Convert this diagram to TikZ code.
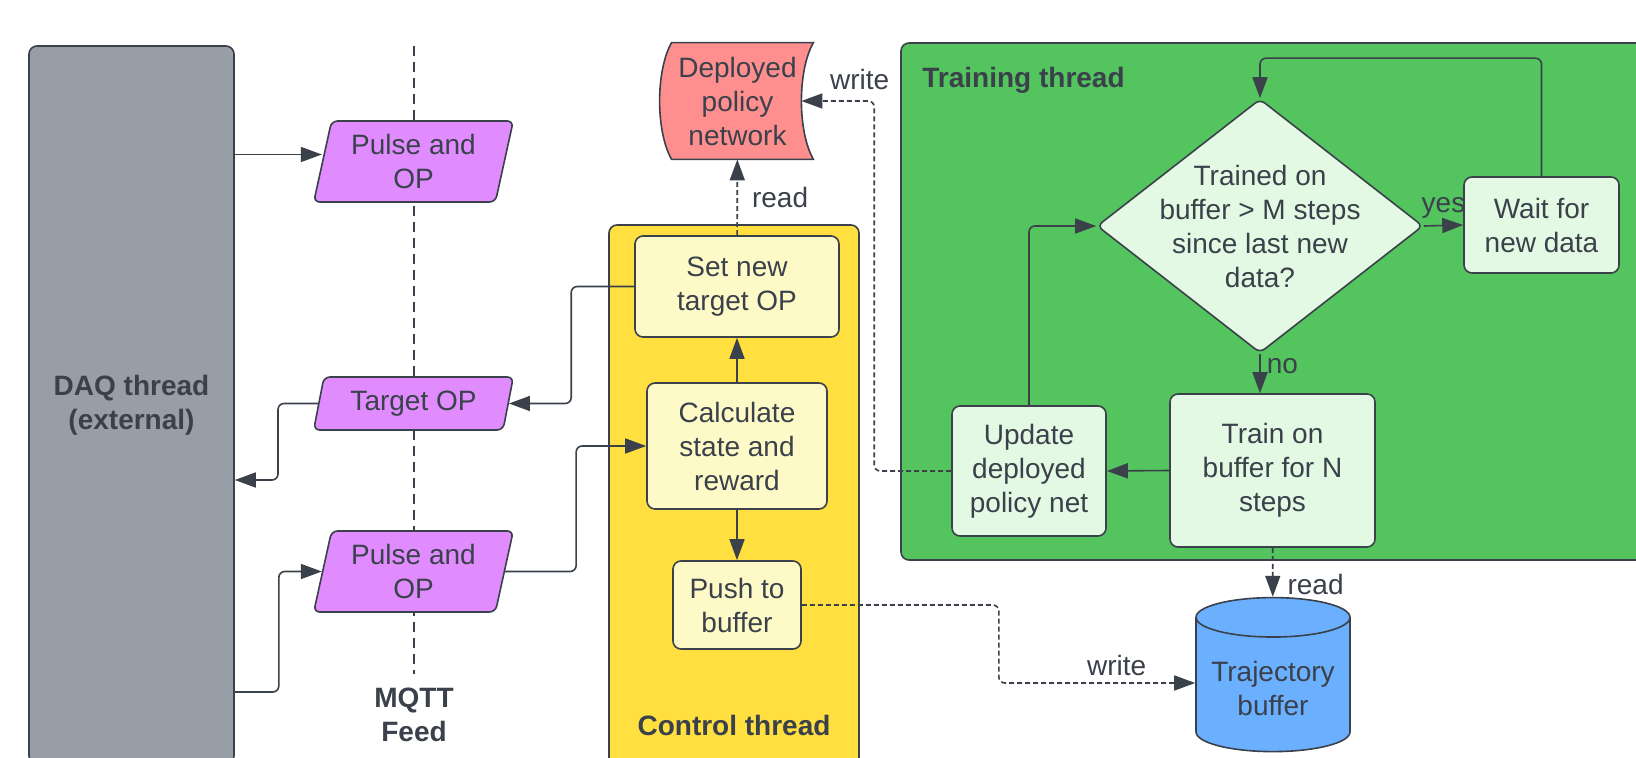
\documentclass[tikz,border=0pt]{standalone}
\usepackage{fontspec}
\setmainfont{Liberation Sans}
\usetikzlibrary{arrows.meta,positioning,shapes.geometric,backgrounds}
\definecolor{inkdark}{RGB}{58,65,74}
\definecolor{daqgray}{RGB}{151,158,168}
\definecolor{msgpurple}{RGB}{224,140,255}
\definecolor{salmonred}{RGB}{255,143,143}
\definecolor{ctrlyellow}{RGB}{255,224,64}
\definecolor{paleyellow}{RGB}{254,250,200}
\definecolor{trngreen}{RGB}{84,196,94}
\definecolor{palegreen}{RGB}{227,249,227}
\definecolor{bufblue}{RGB}{107,175,255}
\tikzset{
  base/.style={font=\fontsize{14}{17}\selectfont, align=center, inner sep=2pt, text=inkdark},
  lane/.style={base, rectangle, rounded corners=4pt, draw=inkdark, line width=0.8pt, inner sep=0pt},
  lanetitle/.style={base, font=\fontsize{14}{17}\selectfont\bfseries},
  box/.style={base, rectangle, rounded corners=4pt, draw=inkdark, line width=0.8pt},
  ctrlbox/.style={box, fill=paleyellow},
  trnbox/.style={box, fill=palegreen},
  msg/.style={base, trapezium, trapezium left angle=77, trapezium right angle=103, trapezium stretches=true, draw=inkdark, fill=msgpurple, line width=0.8pt, rounded corners=3pt, minimum width=100.5pt},
  decision/.style={diamond, draw=inkdark, fill=palegreen, line width=0.8pt, inner sep=0pt, rounded corners=3pt},
  store/.style={base, cylinder, shape border rotate=90, shape aspect=0.3, draw=inkdark, fill=bufblue, line width=0.8pt, minimum width=77pt, minimum height=77pt},
  dbnode/.style={base, rectangle, draw=none, inner sep=0pt},
  dbfill/.style={draw=inkdark, fill=salmonred, line width=0.8pt},
  arr/.style={-{Triangle[length=10.5pt,width=7.5pt]}, line width=0.8pt, draw=inkdark, rounded corners=3pt},
  arrd/.style={arr, dash pattern=on 2.5pt off 1.5pt},
  feed/.style={draw=inkdark, line width=0.7pt, dash pattern=on 5pt off 3pt},
  lbl/.style={base, inner sep=3pt},
}
\begin{document}
\begin{tikzpicture}[x=0.5pt,y=-0.5pt]
  \useasboundingbox (0,0) rectangle (1636,758);
  \clip (0,0) rectangle (1636,758);
  % thread lanes
  \node[lane, fill=daqgray, font=\fontsize{14}{17}\selectfont\bfseries, minimum width=102.5pt, minimum height=359pt] (daq) at (131.5,405) {DAQ thread\\(external)};
  \node[lane, fill=ctrlyellow, minimum width=125pt, minimum height=287.5pt] (ctrl) at (734,512.5) {};
  \node[lane, fill=trngreen, minimum width=399.5pt, minimum height=258.5pt] (trn) at (1300.5,301.5) {};
  \node[lanetitle] (ctrltitle) at (734,725) {Control thread};
  \node[lanetitle, anchor=west] (trntitle) at (918,80) {Training thread};
  \coordinate (daqout) at ([yshift=-37.5pt]daq.east);
  \coordinate (daqin) at ([yshift=-143.5pt]daq.east);
  % MQTT feed
  \node[lanetitle] (mqtt) at (414,715) {MQTT\\Feed};
  \coordinate (feedtop) at (414,46);
  \draw[feed] (feedtop) -- ([yshift=5pt]mqtt.north);
  \node[msg, minimum height=40.5pt] (pulseA) at (413.5,161.5) {Pulse and\\OP};
  \node[msg, minimum height=26.5pt] (tgt) at (413.5,403.5) {Target OP};
  \node[msg, minimum height=40.5pt] (pulseB) at (413.5,571.5) {Pulse and\\OP};
  \coordinate (pulsein) at ([yshift=3.5pt]pulseA.west);
  % control thread
  \node[ctrlbox, minimum width=102pt, minimum height=50.5pt] (setnew) at (737,286.5) {Set new\\target OP};
  \node[ctrlbox, minimum width=90pt, minimum height=63pt] (calc) at (737,446) {Calculate\\state and\\reward};
  \node[ctrlbox, minimum width=64pt, minimum height=44pt] (push) at (737,605) {Push to\\buffer};
  \node[dbnode, minimum width=75.5pt, minimum height=58pt] (dep) at (737.5,101) {Deployed\\policy\\network};
  \begin{pgfonlayer}{background}
    \draw[dbfill] ([xshift=5pt]dep.north west) -- (dep.north east)
      .. controls +(-8pt,-14pt) and +(-8pt,14pt) .. (dep.south east)
      -- ([xshift=5pt]dep.south west)
      .. controls +(-8pt,14pt) and +(-8pt,-14pt) .. ([xshift=5pt]dep.north west) -- cycle;
  \end{pgfonlayer}
  \coordinate (depin) at ([xshift=-6pt]dep.east);
  % training thread
  \node[decision, minimum width=163pt, minimum height=127pt, label={[base]center:Trained on\\buffer > M steps\\since last new\\data?}] (dec) at (1260,226) {};
  \node[trnbox, minimum width=77.5pt, minimum height=48pt] (wait) at (1541.5,225) {Wait for\\new data};
  \node[trnbox, minimum width=102.5pt, minimum height=76.5pt] (trainN) at (1272.5,470.5) {Train on\\buffer for N\\steps};
  \node[trnbox, minimum width=77pt, minimum height=65pt] (upd) at (1029,471) {Update\\deployed\\policy net};
  \node[store] (buf) at (1273,688) {Trajectory\\buffer};
  \coordinate (bufin) at ([yshift=2.5pt]buf.west);
  % connectors
  \draw[arr] (daq.east |- pulsein) -- (pulsein);
  \draw[arr] (tgt.west) -- ++(-40,0) |- (daqout);
  \draw[arr] (daqin) -- ++(44,0) |- (pulseB.west);
  \draw[arr] (pulseB.east) -- ++(71,0) |- (calc.west);
  \draw[arr] (setnew.west) -- ++(-63,0) |- (tgt.east);
  \draw[arr] (calc) -- (setnew);
  \draw[arr] (calc) -- (push);
  \draw[arrd] (setnew) -- (dep) node[lbl, midway, right=4pt] {read};
  \draw[arrd] (push.east) -- ++(197,0) |- (bufin) node[lbl, pos=0.8, above] {write};
  \draw[arrd] (trainN) -- (buf) node[lbl, pos=0.75, right=4pt] {read};
  \draw[arrd] (upd.west) -- ++(-77,0) |- (depin) node[lbl, pos=0.6, above=2pt] {write};
  \draw[arr] (dec.east) -- (wait.west) node[lbl, midway, above] {yes};
  \draw[arr] (dec.south) -- (dec.south |- trainN.north) node[lbl, pos=0.3, right] {no};
  \draw[arr] (trainN.west) -- (upd.east);
  \draw[arr] (upd.north) |- (dec.west);
  \draw[arr] (wait.north) -- ++(0,-118) -| (dec.north);
\end{tikzpicture}
\end{document}
